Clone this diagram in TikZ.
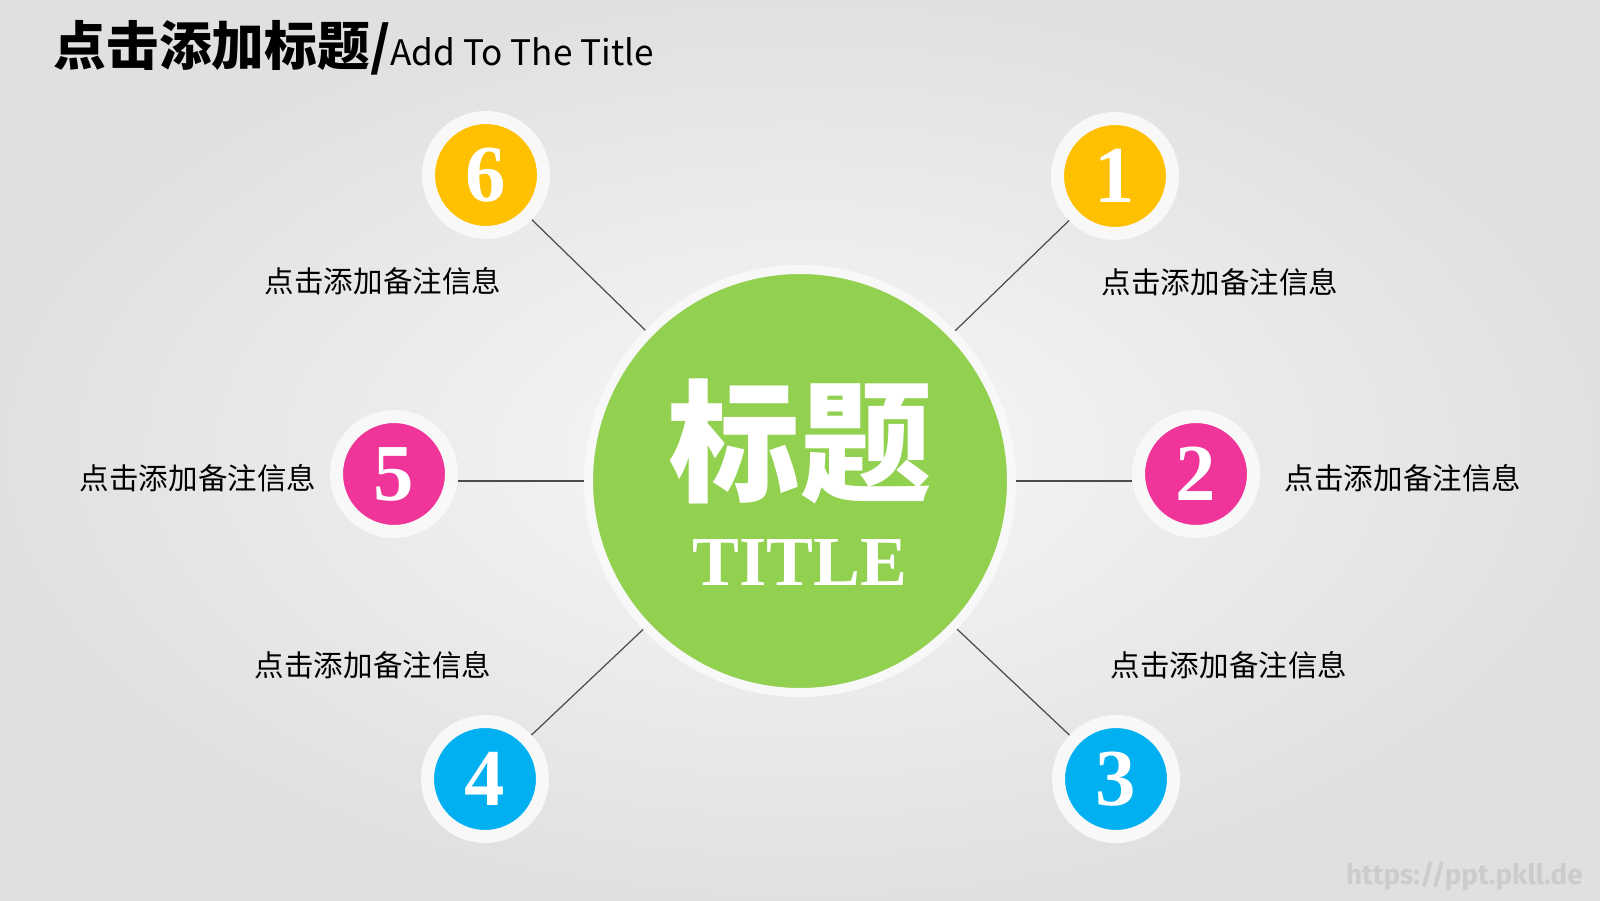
\documentclass[tikz,border=0pt]{standalone}
\usepackage{fontspec}
\newfontfamily\cjk{Noto Sans CJK SC}
\newfontfamily\cjkheavy{Noto Sans CJK SC Black}
\newfontfamily\fat{Liberation Serif}
\newfontfamily\wmfont{Fira Sans}
\definecolor{yel}{HTML}{FFC000}
\definecolor{pnk}{HTML}{F0359A}
\definecolor{blu}{HTML}{00B0F0}
\definecolor{grn}{HTML}{92D050}
\definecolor{ring}{HTML}{F8F8F8}

\begin{document}
\begin{tikzpicture}[main/.style = {circle, draw=ring, fill=#1, line width=1.3mm, minimum size=11.5mm, inner sep=0pt, text=white, font=\fat\bfseries\fontsize{23}{23}\selectfont},
    note/.style = {font=\cjk\fontsize{8.4}{10}\selectfont},
    link/.style = {draw=black!70, line width=0.35pt}]
    \useasboundingbox (0,0) rectangle (16,9);
    \shade[inner color=gray!6, outer color=gray!24] (0,0) rectangle (16,9);
    % title
    \node[anchor=west, inner sep=0pt] (head) at (0.53,8.52) {{\cjk\bfseries\fontsize{15}{18}\selectfont 点击添加标题/}{\cjk\fontsize{10}{12}\selectfont Add To The Title}};
    % centre
    \node[circle, draw=ring, fill=grn, line width=0.9mm, minimum size=42.3mm] (c) at (8,4.19) {};
    \node[text=white, font=\cjkheavy\fontsize{37.5}{40}\selectfont] (t) at (8,4.59) {标题};
    \node[text=white, font=\fat\bfseries\fontsize{20}{20}\selectfont] (tt) at (8,3.38) {TITLE};
    % numbers
    \node[main=yel] (6) at (4.86,7.25) {6};
    \node[main=yel] (1) at (11.15,7.24) {1};
    \node[main=pnk] (5) at (3.94,4.26) {5};
    \node[main=pnk] (2) at (11.96,4.26) {2};
    \node[main=blu] (4) at (4.85,1.21) {4};
    \node[main=blu] (3) at (11.16,1.21) {3};
    % notes
    \node[note] (n6) at (3.83,6.19) {点击添加备注信息};
    \node[note] (n1) at (12.20,6.18) {点击添加备注信息};
    \node[note] (n5) at (1.98,4.22) {点击添加备注信息};
    \node[note] (n2) at (14.03,4.22) {点击添加备注信息};
    \node[note] (n4) at (3.73,2.35) {点击添加备注信息};
    \node[note] (n3) at (12.29,2.35) {点击添加备注信息};
    \draw[link] (6) -- (c);
    \draw[link] (1) -- (c);
    \draw[link] (4) -- (c);
    \draw[link] (3) -- (c);
    \draw[link] (5.east |- c) -- (c.west);
    \draw[link] (c.east) -- (2.west |- c);
    \node[anchor=east, text=gray!40, font=\wmfont\bfseries\fontsize{7.9}{8}\selectfont] (url) at (15.95,0.24) {https://ppt.pkll.de};
\end{tikzpicture}
\end{document}
